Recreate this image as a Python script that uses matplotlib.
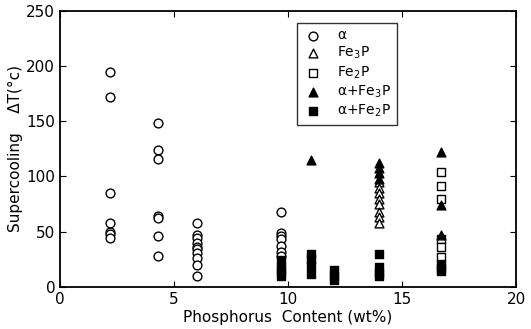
import matplotlib.pyplot as plt

# alpha (open circles)
alpha_x = [2.2] * 7 + [4.3] * 7 + [6.0] * 10 + [9.7] * 7
alpha_y = [195, 172, 85, 58, 50, 48, 44,
           148, 124, 116, 64, 62, 46, 28,
           58, 47, 44, 40, 36, 34, 31, 26, 20, 10,
           68, 49, 46, 43, 37, 32, 28]

# Fe3P (open triangles)
fe3p_x = [14.0] * 8
fe3p_y = [95, 90, 85, 80, 75, 68, 63, 58]

# Fe2P (open squares)
fe2p_x = [16.7] * 6
fe2p_y = [104, 91, 80, 43, 36, 27]

# alpha + Fe3P (filled triangles)
a_fe3p_x = [11.0, 14.0, 14.0, 14.0, 14.0, 16.7, 16.7, 16.7]
a_fe3p_y = [115, 112, 108, 103, 98, 122, 74, 47]

# alpha + Fe2P (filled squares)
a_fe2p_x = [9.7, 9.7, 9.7, 9.7, 11.0, 11.0, 11.0, 11.0,
            12.0, 12.0, 12.0, 14.0, 14.0, 14.0, 14.0, 16.7, 16.7, 16.7]
a_fe2p_y = [24, 18, 14, 10, 30, 25, 20, 12,
            15, 10, 6, 30, 18, 13, 10, 21, 17, 14]

fig = plt.figure(figsize=(5.31, 3.29), dpi=100)
ax = fig.add_axes([0.113, 0.128, 0.859, 0.839])

ax.scatter(alpha_x, alpha_y, marker='o', s=40, facecolors='white',
           edgecolors='black', linewidths=1, label='α', zorder=3)
ax.scatter(fe3p_x, fe3p_y, marker='^', s=40, facecolors='white',
           edgecolors='black', linewidths=1, label='Fe$_3$P', zorder=3)
ax.scatter(fe2p_x, fe2p_y, marker='s', s=40, facecolors='white',
           edgecolors='black', linewidths=1, label='Fe$_2$P', zorder=3)
ax.scatter(a_fe3p_x, a_fe3p_y, marker='^', s=40, color='black',
           label='α+Fe$_3$P', zorder=4)
ax.scatter(a_fe2p_x, a_fe2p_y, marker='s', s=40, color='black',
           label='α+Fe$_2$P', zorder=4)

ax.set_xlim(0, 20)
ax.set_ylim(0, 250)
ax.set_xticks([0, 5, 10, 15, 20])
ax.set_yticks([0, 50, 100, 150, 200, 250])
ax.tick_params(direction='in', top=True, right=True, labelsize=11, length=4)
for s in ax.spines.values():
    s.set_linewidth(1.3)

ax.set_xlabel('Phosphorus  Content (wt%)', fontsize=11, labelpad=2)
ax.set_ylabel('Supercooling    ΔT(°c)', fontsize=11, labelpad=2)

leg = ax.legend(loc='upper left', bbox_to_anchor=(0.52, 0.957), fontsize=10,
                frameon=True, fancybox=False, edgecolor='black',
                handletextpad=1.0, labelspacing=0.2, borderpad=0.4,
                borderaxespad=0, handlelength=1.5, scatterpoints=1)
leg.get_frame().set_linewidth(1)

fig.savefig('out.png', dpi=100)
